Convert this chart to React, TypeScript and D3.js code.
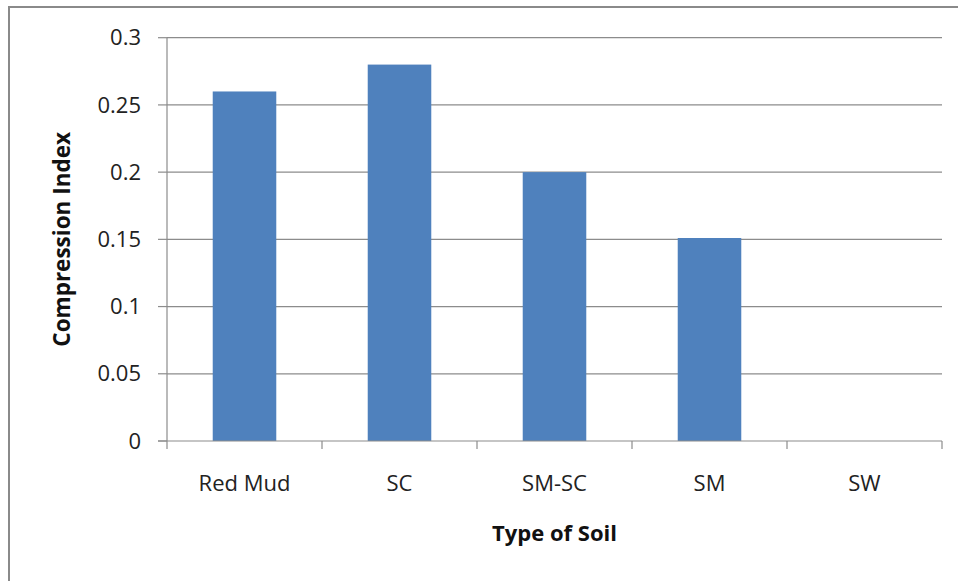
import React from "react";
import * as d3 from "d3";

const categories = ["Red Mud", "SC", "SM-SC", "SM", "SW"];
const values = [0.26, 0.28, 0.2, 0.151, 0];
const yTicks = [0, 0.05, 0.1, 0.15, 0.2, 0.25, 0.3];
const yTickLabels = ["0", "0.05", "0.1", "0.15", "0.2", "0.25", "0.3"];
const xTitle = "Type of Soil";
const yTitle = "Compression Index";

const W = 958;
const H = 581;
const M = { left: 167, right: 942, top: 37.7, bottom: 441 };
const FONT = "'Open Sans', sans-serif";

export default function App() {
  const x = d3.scaleBand<string>().domain(categories).range([M.left, M.right]).paddingInner(0.59).paddingOuter(0.295);
  const band = d3.scaleBand<string>().domain(categories).range([M.left, M.right]);
  const y = d3.scaleLinear().domain([0, 0.3]).range([M.bottom, M.top]);
  const grid = "#8c8c8c";
  return (
    <div style={{ position: "absolute", left: 0, top: 0 }}>
      <svg width={W} height={H} style={{ display: "block", background: "#fff" }}>
        <rect x={9} y={7} width={1000} height={700} fill="#fff" stroke="#8a8a8a" strokeWidth={2} />
        {yTicks.map((t, i) => (
          <g key={i}>
            {t !== 0 && <line x1={M.left} x2={M.right} y1={y(t)} y2={y(t)} stroke={grid} strokeWidth={1.2} />}
            <line x1={158} x2={M.left} y1={y(t)} y2={y(t)} stroke={grid} strokeWidth={1.2} />
            <text x={141} y={y(t)} dy="0.35em" textAnchor="end" fontFamily={FONT} fontSize={22} fill="#222">
              {yTickLabels[i]}
            </text>
          </g>
        ))}
        {categories.map((c, i) => (
          <rect key={c} x={x(c)!} width={x.bandwidth()} y={y(values[i])} height={y(0) - y(values[i])} fill="#4F81BD" />
        ))}
        <line x1={M.left} x2={M.left} y1={M.top} y2={M.bottom + 8} stroke={grid} strokeWidth={1.2} />
        <line x1={158} x2={M.right} y1={M.bottom} y2={M.bottom} stroke={grid} strokeWidth={1.2} />
        {categories.map((c, i) => (
          <line key={"t" + i} x1={band(c)! + band.bandwidth()} x2={band(c)! + band.bandwidth()} y1={M.bottom} y2={M.bottom + 8} stroke={grid} strokeWidth={1.2} />
        ))}
        {categories.map((c) => (
          <text key={"l" + c} x={band(c)! + band.bandwidth() / 2} y={491} textAnchor="middle" fontFamily={FONT} fontSize={22} fill="#222">
            {c}
          </text>
        ))}
        <text x={(M.left + M.right) / 2} y={541} textAnchor="middle" fontFamily={FONT} fontSize={22} fontWeight="bold" fill="#111">
          {xTitle}
        </text>
        <text transform={`translate(70,${(M.top + M.bottom) / 2}) rotate(-90)`} textAnchor="middle" fontFamily={FONT} fontSize={22.5} fontWeight="bold" fill="#111">
          {yTitle}
        </text>
      </svg>
    </div>
  );
}
